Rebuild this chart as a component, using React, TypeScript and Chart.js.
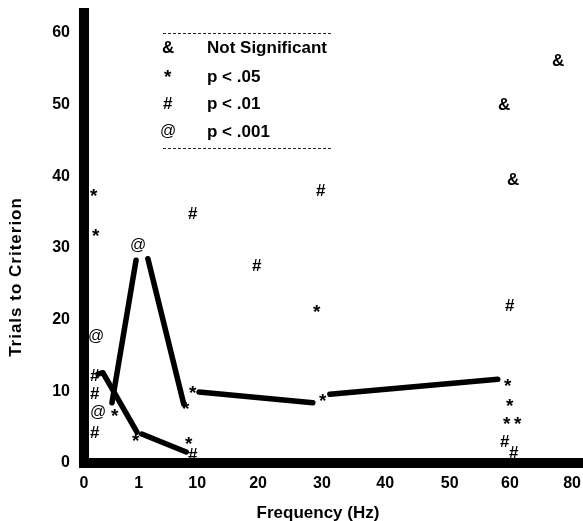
import React, { useEffect, useRef } from "react";
import { Chart, registerables } from "chart.js";

Chart.register(...registerables);

// ---------- axis ticks ----------
const xTickPositions = [0, 0.9, 1.86, 2.86, 3.91, 4.95, 6.01, 7.0, 8.02];
const xTickLabels = ["0", "1", "10", "20", "30", "40", "50", "60", "80"];
const yTicks = [0, 10, 20, 30, 40, 50, 60];

// ---------- legend ----------
const legendSymbols = ["&", "*", "#", "@"];
const legendLabels = ["Not Significant", "p < .05", "p < .01", "p < .001"];

// ---------- marker series (x in axis position units, y = trials) ----------
const notSigX = [6.9, 7.05, 7.79];
const notSigY = [50.1, 39.6, 56.2];

const p05X = [0.16, 0.2, 0.51, 0.86, 1.68, 1.79, 1.73, 3.83, 3.93, 6.97, 7.0, 6.95, 7.13];
const p05Y = [37.7, 32.2, 7.0, 3.5, 8.0, 10.3, 3.2, 21.5, 9.2, 11.2, 8.4, 6.0, 5.9];

const p01X = [0.18, 0.18, 0.18, 1.79, 1.79, 2.84, 3.9, 7.0, 6.92, 7.07];
const p01Y = [12.3, 9.8, 4.3, 34.9, 1.3, 27.6, 38.1, 22.1, 3.1, 1.5];

const p001X = [0.2, 0.23, 0.89];
const p001Y = [17.6, 7.1, 30.4];

// ---------- connecting line segments ----------
const curveAX = [0.23, 0.31, 0.87];
const curveAY = [12.4, 12.6, 4.3];
const curveBX = [0.95, 1.68];
const curveBY = [4.05, 1.54];
const peakLeftX = [0.46, 0.855];
const peakLeftY = [8.4, 28.3];
const peakRightX = [1.05, 1.64];
const peakRightY = [28.5, 8.2];
const flatAX = [1.89, 3.76];
const flatAY = [9.9, 8.4];
const flatBX = [4.04, 6.8];
const flatBY = [9.6, 11.7];

const FONT_FAMILY = "'Liberation Sans', Arial, Helvetica, sans-serif";

function zip(xs: number[], ys: number[]) {
  return xs.map((x, i) => ({ x, y: ys[i] }));
}

function makeGlyph(ch: string, font: string): HTMLCanvasElement {
  const c = document.createElement("canvas");
  const ctx = c.getContext("2d")!;
  ctx.font = font;
  const m = ctx.measureText(ch);
  const w = Math.ceil(m.actualBoundingBoxLeft + m.actualBoundingBoxRight) + 2;
  const h = Math.ceil(m.actualBoundingBoxAscent + m.actualBoundingBoxDescent) + 2;
  c.width = w;
  c.height = h;
  const g = c.getContext("2d")!;
  g.font = font;
  g.fillStyle = "#000";
  g.textAlign = "left";
  g.textBaseline = "alphabetic";
  g.fillText(ch, 1 + m.actualBoundingBoxLeft, 1 + m.actualBoundingBoxAscent);
  return c;
}

function zeroPadding(scale: any) {
  scale.paddingTop = 0;
  scale.paddingBottom = 0;
  scale.paddingLeft = 0;
  scale.paddingRight = 0;
}

export default function App() {
  const ref = useRef<HTMLCanvasElement>(null);

  useEffect(() => {
    if (!ref.current) return;

    const glyphs: Record<string, HTMLCanvasElement> = {
      "&": makeGlyph("&", `bold 17px ${FONT_FAMILY}`),
      "*": makeGlyph("*", `bold 19px ${FONT_FAMILY}`),
      "#": makeGlyph("#", `bold 17px ${FONT_FAMILY}`),
      "@": makeGlyph("@", `16px ${FONT_FAMILY}`),
    };

    const lineDs = (xs: number[], ys: number[]) => ({
      data: zip(xs, ys),
      showLine: true,
      borderColor: "#000",
      borderWidth: 5.5,
      borderCapStyle: "round" as const,
      borderJoinStyle: "round" as const,
      pointRadius: 0,
      pointHoverRadius: 0,
      fill: false,
    });

    const markerDs = (label: string, sym: string, xs: number[], ys: number[]) => ({
      label,
      data: zip(xs, ys),
      showLine: false,
      pointStyle: glyphs[sym],
      pointRadius: 5,
      pointHoverRadius: 5,
    });

    const crisp = {
      id: "crisp",
      beforeDatasetsDraw(chart: any) {
        chart.ctx.imageSmoothingEnabled = false;
      },
      afterDatasetsDraw(chart: any) {
        chart.ctx.imageSmoothingEnabled = true;
      },
    };

    const overlay = {
      id: "overlay",
      afterDraw(chart: any) {
        const { ctx, chartArea } = chart;
        const L = chartArea.left;
        const T = chartArea.top;
        ctx.save();
        // legend box
        ctx.strokeStyle = "#222";
        ctx.lineWidth = 1;
        ctx.setLineDash([3, 2]);
        const lx0 = L + 79;
        const lx1 = L + 249;
        const ly0 = T + 20.5;
        const ly1 = T + 135.5;
        ctx.beginPath();
        ctx.moveTo(lx0, ly0);
        ctx.lineTo(lx1, ly0);
        ctx.moveTo(lx0, ly1);
        ctx.lineTo(lx1, ly1);
        ctx.stroke();
        ctx.setLineDash([]);
        const rows = [34, 63, 90, 118];
        legendSymbols.forEach((s, i) => {
          const g = glyphs[s];
          const cy = T + rows[i] - (s === "*" ? 3 : 0);
          ctx.drawImage(g, Math.round(L + 84 - g.width / 2), Math.round(cy - g.height / 2));
        });
        ctx.fillStyle = "#000";
        ctx.font = `bold 17px ${FONT_FAMILY}`;
        ctx.textAlign = "left";
        ctx.textBaseline = "middle";
        legendLabels.forEach((t, i) => {
          ctx.fillText(t, L + 123, T + rows[i] + 1);
        });
        // axis titles
        ctx.font = `bold 17px ${FONT_FAMILY}`;
        ctx.textAlign = "center";
        ctx.textBaseline = "middle";
        ctx.fillText("Frequency (Hz)", L + 234, chartArea.bottom + 50);
        ctx.translate(16, T + 264);
        ctx.rotate(-Math.PI / 2);
        (ctx as any).letterSpacing = "1px";
        ctx.fillText("Trials to Criterion", 0, 0);
        ctx.restore();
      },
    };

    const chart = new Chart(ref.current, {
      type: "scatter",
      data: {
        datasets: [
          lineDs(curveAX, curveAY),
          lineDs(curveBX, curveBY),
          lineDs(peakLeftX, peakLeftY),
          lineDs(peakRightX, peakRightY),
          lineDs(flatAX, flatAY),
          lineDs(flatBX, flatBY),
          markerDs(legendLabels[0], "&", notSigX, notSigY),
          markerDs(legendLabels[1], "*", p05X, p05Y),
          markerDs(legendLabels[2], "#", p01X, p01Y),
          markerDs(legendLabels[3], "@", p001X, p001Y),
        ] as any,
      },
      options: {
        animation: false,
        responsive: false,
        devicePixelRatio: 1,
        layout: { autoPadding: false, padding: { left: 0, right: 0, top: 13, bottom: 0 } },
        plugins: {
          legend: { display: false },
          tooltip: { enabled: false },
          title: { display: false },
        },
        events: [],
        scales: {
          x: {
            type: "linear",
            min: 0,
            max: 8.2,
            afterBuildTicks: (scale: any) => {
              scale.ticks = xTickPositions.map((v) => ({ value: v }));
            },
            afterFit: (scale: any) => {
              scale.height = 58;
              zeroPadding(scale);
            },
            grid: { display: false, drawTicks: false },
            border: { display: true, width: 10, color: "#000" },
            ticks: {
              autoSkip: false,
              maxRotation: 0,
              padding: 11,
              color: "#000",
              font: { family: FONT_FAMILY, size: 16, weight: "bold" },
              callback: (_v: any, i: number) => xTickLabels[i],
            },
          },
          y: {
            type: "linear",
            min: 0,
            max: 62.8,
            afterBuildTicks: (scale: any) => {
              scale.ticks = yTicks.map((v) => ({ value: v }));
            },
            afterFit: (scale: any) => {
              scale.width = 84;
              zeroPadding(scale);
            },
            grid: { display: false, drawTicks: false },
            border: { display: true, width: 10, color: "#000" },
            ticks: {
              padding: 14,
              color: "#000",
              font: { family: FONT_FAMILY, size: 16, weight: "bold" },
              callback: (v: any) => String(v),
            },
          },
        },
      } as any,
      plugins: [crisp, overlay],
    });

    return () => chart.destroy();
  }, []);

  return (
    <div style={{ position: "absolute", left: 0, top: 0, width: 583, height: 521, background: "#fff" }}>
      <canvas ref={ref} width={583} height={521} style={{ display: "block" }} />
    </div>
  );
}
